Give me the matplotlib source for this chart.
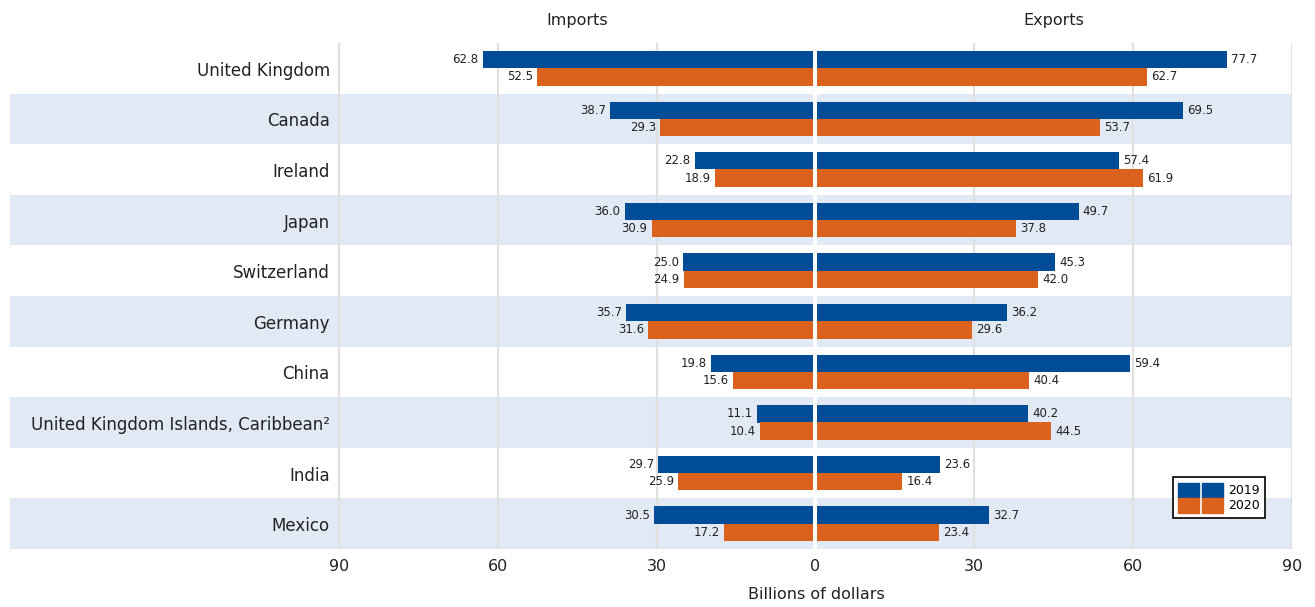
import matplotlib
matplotlib.use("Agg")
import matplotlib.pyplot as plt
from matplotlib.patches import Patch
from matplotlib.legend_handler import HandlerTuple
from matplotlib.ticker import FuncFormatter
import numpy as np

plt.rcParams['font.family'] = ['DejaVu Sans']

# data
countries = ["United Kingdom", "Canada", "Ireland", "Japan", "Switzerland", "Germany",
             "China", "United Kingdom Islands, Caribbean\u00b2", "India", "Mexico"]
imports_2019 = [62.8, 38.7, 22.8, 36.0, 25.0, 35.7, 19.8, 11.1, 29.7, 30.5]
imports_2020 = [52.5, 29.3, 18.9, 30.9, 24.9, 31.6, 15.6, 10.4, 25.9, 17.2]
exports_2019 = [77.7, 69.5, 57.4, 49.7, 45.3, 36.2, 59.4, 40.2, 23.6, 32.7]
exports_2020 = [62.7, 53.7, 61.9, 37.8, 42.0, 29.6, 40.4, 44.5, 16.4, 23.4]
years = ["2019", "2020"]

blue = "#004c97"
orange = "#da621c"
band = "#e1e9f5"
grid = "#e0e0e0"
txt = "#222222"

fig = plt.figure(figsize=(13.15, 6.07), dpi=100)
W, H = 1315, 607
ax = fig.add_axes([10 / W, 1 - 549 / H, (1292 - 10) / W, (549 - 43) / H])

y = np.arange(len(countries))
bh = 0.34

# row bands
for i in y:
    if i % 2 == 1:
        ax.axhspan(i - 0.5, i + 0.5, color=band, lw=0, zorder=0)

for gx in [-90, -60, -30, 30, 60, 90]:
    ax.axvline(gx, color=grid, lw=1.5, zorder=1)

# bars
b1 = ax.barh(y - bh / 2, [-v for v in imports_2019], height=bh, color=blue, zorder=2)
b2 = ax.barh(y + bh / 2, [-v for v in imports_2020], height=bh, color=orange, zorder=2)
b3 = ax.barh(y - bh / 2, exports_2019, height=bh, color=blue, zorder=2)
b4 = ax.barh(y + bh / 2, exports_2020, height=bh, color=orange, zorder=2)

for bars, vals in [(b1, imports_2019), (b2, imports_2020), (b3, exports_2019), (b4, exports_2020)]:
    ax.bar_label(bars, labels=[f"{v:.1f}" for v in vals], padding=3, fontsize=8.5,
                 color=txt)

ax.axvline(0, color="white", lw=2.9, zorder=3)

# category labels
for i, c in zip(y, countries):
    ax.text(-91.7, i + 0.05, c, ha="right", va="center", fontsize=12, color=txt)

ax.set_xlim(-152.1, 90)
ax.set_ylim(len(countries) - 0.5, -0.5)
ax.set_yticks([])
ax.set_xticks([-90, -60, -30, 0, 30, 60, 90])
ax.xaxis.set_major_formatter(FuncFormatter(lambda v, p: f"{abs(v):.0f}"))
ax.tick_params(axis="x", length=0, labelsize=11.5, pad=7, labelcolor=txt)
ax.set_xlabel("Billions of dollars", fontsize=11.5, color=txt)
ax.xaxis.set_label_coords((816 - 10) / 1282, -0.075)
for s in ax.spines.values():
    s.set_visible(False)

tr = ax.get_xaxis_transform()
ax.text(-45, 1.045, "Imports", transform=tr, ha="center", va="center", fontsize=11.5, color=txt)
ax.text(45, 1.045, "Exports", transform=tr, ha="center", va="center", fontsize=11.5, color=txt)

# legend
h19 = (Patch(color=blue), Patch(color=blue))
h20 = (Patch(color=orange), Patch(color=orange))
leg = ax.legend([h19, h20], years, handler_map={tuple: HandlerTuple(ndivide=None, pad=0.25)},
                loc="lower right", bbox_to_anchor=(0.979, 0.061), fontsize=9,
                frameon=True, fancybox=False, edgecolor="black", framealpha=1,
                handlelength=3.6, handleheight=1.45, labelspacing=0, handletextpad=0.35,
                borderpad=0.45, borderaxespad=0)
leg.get_frame().set_linewidth(1.2)

fig.savefig("out.png", dpi=100)
